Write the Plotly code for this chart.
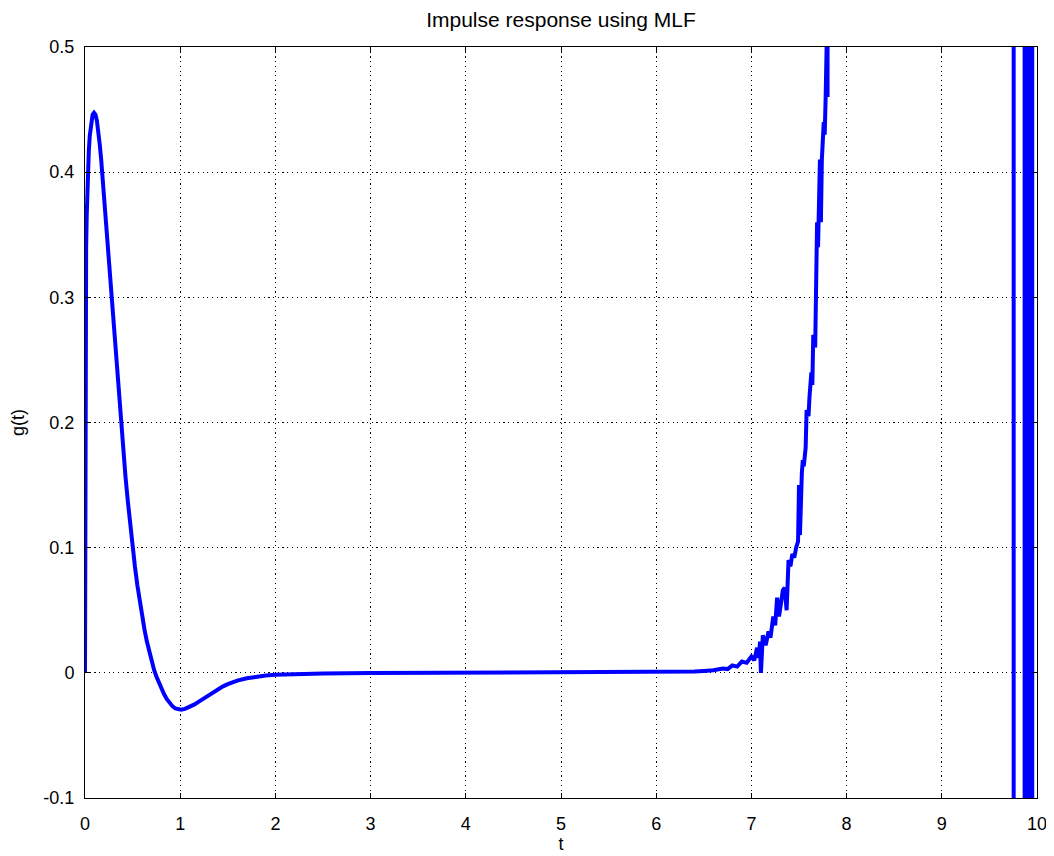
import plotly.graph_objects as go

# time samples and impulse response values
t_vals = [
    0.0, 0.002, 0.005, 0.008, 0.012, 0.018, 0.024, 0.03, 0.04, 0.05, 0.06, 0.07,
    0.08, 0.095, 0.11, 0.125, 0.14, 0.155, 0.17, 0.18, 0.20, 0.225, 0.25, 0.275,
    0.30, 0.325, 0.35, 0.375, 0.40, 0.425, 0.45, 0.475, 0.50, 0.525, 0.55, 0.575,
    0.60, 0.625, 0.65, 0.675, 0.70, 0.725, 0.75, 0.775, 0.80, 0.83, 0.86, 0.89,
    0.92, 0.95, 0.98, 1.01, 1.05, 1.10, 1.15, 1.20, 1.25, 1.30, 1.35, 1.40,
    1.45, 1.50, 1.55, 1.60, 1.70, 1.80, 1.90, 2.0, 2.2, 2.5, 3.0, 3.5,
    4.0, 4.5, 5.0, 5.5, 6.0, 6.24, 6.4, 6.5, 6.6, 6.7, 6.75, 6.8,
    6.85, 6.9, 6.95, 7.0, 7.03, 7.06, 7.08, 7.09, 7.10, 7.12, 7.15, 7.18,
    7.20, 7.23, 7.25, 7.27, 7.29, 7.31, 7.33, 7.35, 7.37, 7.39, 7.41, 7.43,
    7.45, 7.47, 7.49, 7.50, 7.51, 7.53, 7.54, 7.55, 7.57, 7.58, 7.60, 7.61,
    7.62, 7.63, 7.64, 7.65, 7.67, 7.68, 7.69, 7.70, 7.71, 7.72, 7.73, 7.74,
    7.76, 7.77, 7.78, 7.79, 7.80, 7.81, 7.83, 7.9, 8.0, 8.5, 9.0, 9.5,
    9.74, 9.77, 9.86, 9.88, 9.90, 9.92, 9.94, 9.96, 10.0,
]
g_vals = [
    0.0, 0.22, 0.28, 0.31, 0.34, 0.365, 0.385, 0.40, 0.417, 0.429, 0.437, 0.443,
    0.446, 0.4475, 0.446, 0.441, 0.433, 0.422, 0.41, 0.40, 0.381, 0.355, 0.327, 0.300,
    0.274, 0.249, 0.224, 0.200, 0.178, 0.157, 0.137, 0.118, 0.100, 0.0845, 0.070, 0.057,
    0.045, 0.0345, 0.025, 0.0165, 0.009, 0.0025, -0.003, -0.008, -0.0125, -0.017, -0.021, -0.0243,
    -0.0268, -0.0285, -0.0294, -0.0295, -0.0288, -0.0272, -0.0252, -0.0228, -0.0203, -0.0177, -0.0152, -0.0129,
    -0.0108, -0.009, -0.0075, -0.0062, -0.0043, -0.003, -0.0022, -0.0016, -0.001, -0.0006, -0.0002, 0.0,
    0.0, 0.0001, 0.0001, 0.0002, 0.0004, 0.0006, 0.001, 0.0015, 0.002, 0.0035, 0.003, 0.006,
    0.005, 0.009, 0.008, 0.013, 0.010, 0.020, 0.012, 0.025, 0.0, 0.030, 0.022, 0.033,
    0.028, 0.045, 0.038, 0.060, 0.045, 0.055, 0.066, 0.068, 0.050, 0.090, 0.085, 0.095,
    0.092, 0.100, 0.105, 0.150, 0.110, 0.160, 0.170, 0.165, 0.180, 0.210, 0.205, 0.220,
    0.230, 0.240, 0.230, 0.270, 0.260, 0.300, 0.360, 0.340, 0.370, 0.410, 0.360, 0.410,
    0.440, 0.430, 0.460, 0.500, 0.460, 0.550, 0.60, 1.0, 2.0, 20.0, 200.0, 2000.0,
    10000.0, -10000.0, -10000.0, 10000.0, -10000.0, 10000.0, -10000.0, 10000.0, 10000.0,
]

x_ticks = [0, 1, 2, 3, 4, 5, 6, 7, 8, 9, 10]
y_ticks = [-0.1, 0, 0.1, 0.2, 0.3, 0.4, 0.5]
y_tick_text = ["-0.1", "0", "0.1", "0.2", "0.3", "0.4", "0.5"]

fig = go.Figure()
fig.add_trace(go.Scatter(
    x=t_vals, y=g_vals, mode="lines",
    line=dict(color="#0000FF", width=4),
    showlegend=False, hoverinfo="skip",
))

font = "Liberation Sans, Arial, sans-serif"
axis_common = dict(
    showline=True, linecolor="black", linewidth=1, mirror="ticks",
    ticks="inside", ticklen=5, tickcolor="black", tickwidth=1,
    showgrid=True, gridcolor="black", gridwidth=1, griddash="1.2px,3.5px",
    zeroline=False, automargin=False,
    tickfont=dict(family=font, size=18, color="black"),
)

# the page body adds an 8 px offset, so the figure is sized to fill the rest
W, H = 1046, 848
fig.update_layout(
    width=W, height=H,
    margin=dict(l=77, r=17, t=39, b=58),
    paper_bgcolor="white", plot_bgcolor="white",
    title=dict(text="Impulse response using MLF", x=0.5, xanchor="center",
               xref="paper",
               y=1 - 12 / H, yanchor="middle",
               font=dict(family=font, size=21, color="black")),
    xaxis=dict(range=[0, 10], tickvals=x_ticks, ticklabelstandoff=9,
               title=dict(text="t", standoff=3, font=dict(family=font, size=18, color="black")),
               **axis_common),
    yaxis=dict(range=[-0.1, 0.5], tickvals=y_ticks, ticktext=y_tick_text,
               ticklabelstandoff=6,
               title=dict(text="g(t)", standoff=32, font=dict(family=font, size=18, color="black")),
               **axis_common),
)

fig.write_html("out.html")
